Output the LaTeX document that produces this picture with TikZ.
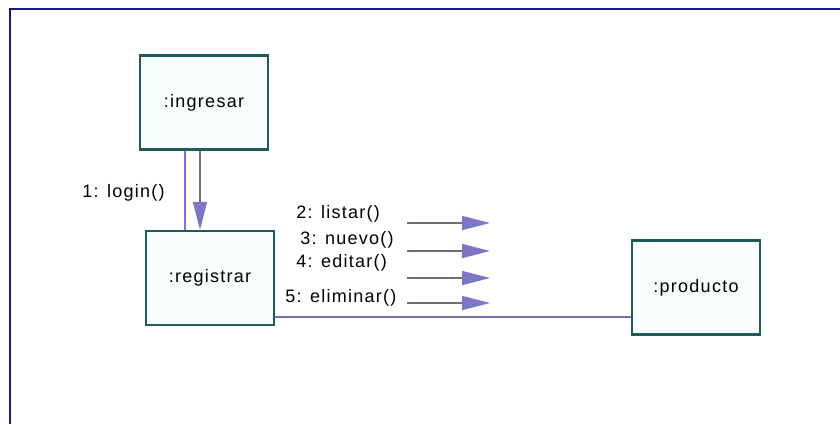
\documentclass[tikz,border=0pt]{standalone}
\usepackage{fontspec}
\setsansfont{Liberation Sans}[LetterSpace=7]
\usetikzlibrary{arrows.meta}

\definecolor{frameblue}{HTML}{1A1A80}
\definecolor{boxteal}{HTML}{1E5C5C}
\definecolor{boxfill}{HTML}{F8FDFD}
\definecolor{msgpurple}{HTML}{7B76C6}
\definecolor{linkpurple}{HTML}{7A72E6}
\definecolor{msggray}{HTML}{6E6E78}

\begin{document}
\begin{tikzpicture}[
  x=0.5pt, y=-0.5pt,
  font=\sffamily\fontsize{9}{11}\selectfont,
  object/.style={draw=boxteal, line width=1.2pt, fill=boxfill, minimum width=64pt, minimum height=47pt, inner sep=0pt},
  msg/.style={-{Triangle[length=14pt, width=7pt, color=msgpurple]}, draw=msggray, line width=0.8pt},
  assoc/.style={draw=linkpurple, line width=0.9pt},
  msglabel/.style={anchor=west, inner sep=0pt}
]
\useasboundingbox (0,0) rectangle (840,424);
\draw[frameblue, line width=1pt] (840,9) -- (10,9) -- (10,424);

\node[object] (ingresar) at (204,102.5) {:ingresar};
\node[object] (registrar) at (210,278) {:registrar};
\node[object] (producto) at (696,287.5) {:producto};

% login between ingresar and registrar
\coordinate (l1) at (185,0);
\coordinate (l2) at (200,0);
\draw[assoc] (ingresar.south -| l1) -- (registrar.north -| l1);
\draw[msg] (ingresar.south -| l2) -- (registrar.north -| l2);
\node[anchor=east, inner sep=0pt] (login) at (165,193) {1: login()};

% messages to producto
\node[msglabel] (listar) at (296,214) {2: listar()};
\node[msglabel] (nuevo) at (300,240) {3: nuevo()};
\node[msglabel] (editar) at (296,263) {4: editar()};
\node[msglabel] (eliminar) at (285,298) {5: eliminar()};

\coordinate (listarA) at (407,223);   \coordinate (listarB) at (490,223);
\coordinate (nuevoA) at (407,251);    \coordinate (nuevoB) at (490,251);
\coordinate (editarA) at (407,278);   \coordinate (editarB) at (490,278);
\coordinate (eliminarA) at (407,303); \coordinate (eliminarB) at (490,303);
\draw[msg] (listarA) -- (listarB);
\draw[msg] (nuevoA) -- (nuevoB);
\draw[msg] (editarA) -- (editarB);
\draw[msg] (eliminarA) -- (eliminarB);

% link registrar -- producto
\coordinate (linky) at (0,317);
\draw[assoc, draw=msggray!50!linkpurple] (registrar.east |- linky) -- (producto.west |- linky);

\end{tikzpicture}
\end{document}
